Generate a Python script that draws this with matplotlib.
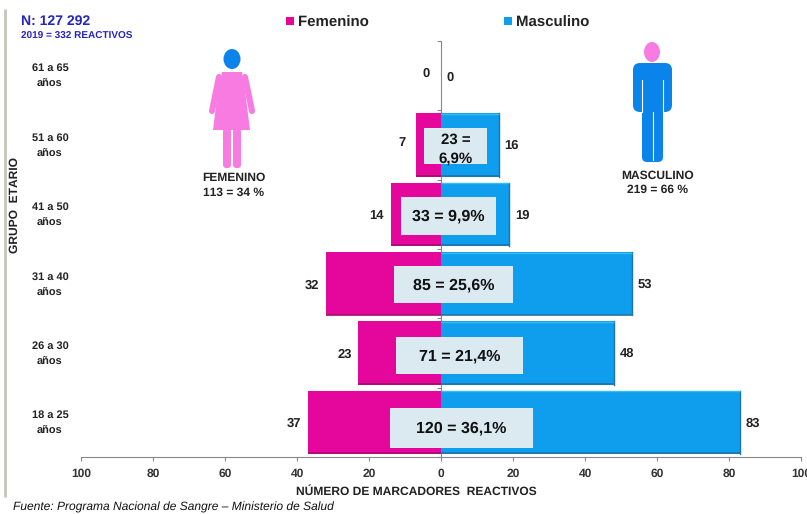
import matplotlib
matplotlib.use('Agg')
import matplotlib.pyplot as plt
from matplotlib.patches import Rectangle, Ellipse, Polygon, FancyBboxPatch

W, H = 807, 514

# data
groups = ['18 a 25\naños', '26 a 30\naños', '31 a 40\naños', '41 a 50\naños', '51 a 60\naños', '61 a 65\naños']
femenino = [37, 23, 32, 14, 7, 0]
masculino = [83, 48, 53, 19, 16, 0]
totales = ['120 = 36,1%', '71 = 21,4%', '85 = 25,6%', '33 = 9,9%', '23 =\n6,9%']
ticks = [-100, -80, -60, -40, -20, 0, 20, 40, 60, 80, 100]
tick_labels = ['100', '80', '60', '40', '20', '0', '20', '40', '60', '80', '100']

# light boxes in the middle, in axis units
box_left = [-14.2, -12.5, -13, -11.2, -4.7]
box_right = [25.6, 22.7, 19.9, 15.3, 12.8]
box_bottom = [-0.37, 0.697, 1.72, 2.70, 3.726]
box_top = [0.207, 1.23, 2.255, 3.25, 4.245]
box_text_shift = [-0.01, -0.01, -0.01, -0.01, -0.05]

# small vertical shifts of the pink side labels, they are not centred in the original
fem_shift = [-0.02, -0.02, -0.02, -0.02, 0.04, 0.03]

PINK = '#e5079b'
BLUE = '#0f9eee'
DARK = '#222222'
plt.rcParams['font.family'] = ['Liberation Sans', 'DejaVu Sans']
plt.rcParams['font.weight'] = 'bold'
plt.rcParams['text.hinting'] = 'no_hinting'
plt.rcParams['text.hinting_factor'] = 1
plt.rcParams['text.kerning_factor'] = 6

fig = plt.figure(figsize=(W / 100, H / 100), dpi=100)


def px(x0, y0, x1, y1):
    return [x0 / W, 1 - y1 / H, (x1 - x0) / W, (y1 - y0) / H]


ax = fig.add_axes(px(81, 41, 801, 457))
y = list(range(len(groups)))
left = [-v for v in femenino]
ax.barh(y, left, height=0.91, color=PINK, linewidth=0, zorder=3)
ax.barh(y, masculino, height=0.91, color=BLUE, linewidth=0, zorder=3)

# darker lower edge and lighter top of the bars
for i in y:
    if femenino[i] == 0 and masculino[i] == 0:
        continue
    ax.plot([left[i], 0], [i - 0.448, i - 0.448], color='#a60f70', lw=1.2, zorder=3.5, solid_capstyle='butt')
    ax.plot([0, masculino[i]], [i - 0.448, i - 0.448], color='#1c74ad', lw=1.2, zorder=3.5, solid_capstyle='butt')
    ax.plot([masculino[i], masculino[i]], [i - 0.455, i + 0.455], color='#1c74ad', lw=1, zorder=3.5)
    ax.plot([0, masculino[i]], [i + 0.445, i + 0.445], color='#35bdf0', lw=1, zorder=3.5, solid_capstyle='butt')

for i in range(len(totales)):
    ax.add_patch(Rectangle((box_left[i], box_bottom[i]), box_right[i] - box_left[i], box_top[i] - box_bottom[i],
                           color='#dbe9f1', lw=0, zorder=4))
    ax.text((box_left[i] + box_right[i]) / 2, (box_bottom[i] + box_top[i]) / 2 + box_text_shift[i], totales[i],
            ha='center', va='center', fontsize=11.5 if i < 4 else 11, color='#111111', zorder=5, linespacing=1.5)

# value labels next to the bars
for i in y:
    if femenino[i] == 0:
        ax.text(-4.2, i + fem_shift[i], '0', ha='center', va='center', fontsize=9, color=DARK)
    else:
        ax.text(-femenino[i] - 3.8, i + fem_shift[i], str(femenino[i]), ha='center', va='center', fontsize=9, color=DARK)
    if masculino[i] == 0:
        ax.text(2.6, i - 0.02, '0', ha='center', va='center', fontsize=9, color=DARK)
    else:
        ax.text(masculino[i] + 3.7, i - 0.01, str(masculino[i]), ha='center', va='center', fontsize=9, color=DARK)

ax.set_xlim(-100, 100)
ax.set_ylim(-0.5, 5.5)
ax.set_xticks(ticks)
ax.set_xticklabels(tick_labels, fontsize=8.5, color='#333333')
ax.set_yticks([v - 0.5 for v in y] + [5.5])
ax.set_yticklabels([])
ax.tick_params(axis='both', length=3, color='#888888', width=0.8, pad=5)
for s in ['top', 'right']:
    ax.spines[s].set_visible(False)
ax.spines['bottom'].set_color('#888888')
ax.spines['left'].set_color('#888888')
ax.spines['left'].set_position(('data', 0))
ax.spines['left'].set_zorder(2)

# overlay in pixel coordinates for the labels and figures
ov = fig.add_axes([0, 0, 1, 1], zorder=5)
ov.set_xlim(0, W)
ov.set_ylim(H, 0)
ov.axis('off')

cat_y = [422, 353, 284, 214, 145, 75]
for g, cy in zip(groups, cat_y):
    ov.text(50, cy + 1, g, ha='center', va='center', fontsize=8, color=DARK, linespacing=1.65)
ov.text(15, 205, 'GRUPO  ETARIO', rotation=90, ha='center', va='center', fontsize=8.5, color=DARK)

ov.text(21, 21, 'N: 127 292', ha='left', va='center', fontsize=10, color='#2525c0')
ov.text(21, 36, '2019 = 332 REACTIVOS', ha='left', va='center', fontsize=7.2, color='#2525c0')

ov.add_patch(Rectangle((286, 17), 8, 8, color=PINK, lw=0))
ov.text(298, 22.5, 'Femenino', ha='left', va='center', fontsize=11, color=DARK)
ov.add_patch(Rectangle((504, 17), 8, 8, color=BLUE, lw=0))
ov.text(516, 22.5, 'Masculino', ha='left', va='center', fontsize=11, color=DARK)

ov.text(234, 178, 'FEMENINO', ha='center', va='center', fontsize=8.3, color=DARK)
ov.text(234, 193, '113 = 34 %', ha='center', va='center', fontsize=8.3, color=DARK)
ov.text(658, 176, 'MASCULINO', ha='center', va='center', fontsize=8.3, color=DARK)
ov.text(658, 190, '219 = 66 %', ha='center', va='center', fontsize=8.3, color=DARK)

ov.text(416, 492, 'NÚMERO DE MARCADORES  REACTIVOS', ha='center', va='center', fontsize=8.5, color=DARK)
ov.text(13, 507, 'Fuente: Programa Nacional de Sangre – Ministerio de Salud', ha='left', va='center',
        fontsize=8.4, style='italic', weight='normal', color='#111111')

# grey line at the left edge
ov.plot([5, 5], [9, 497], color='#c4c4bc', lw=2, solid_capstyle='butt')

# woman figure
F = '#f77be0'
ov.add_patch(Ellipse((232, 59), 17, 20, color='#0a84ea', lw=0))
ov.add_patch(Polygon([[222, 72], [242, 72], [245, 90], [250, 130], [213, 130], [218, 90]],
                     closed=True, color=F, lw=0))
ov.plot([219, 212], [77, 111], color=F, lw=4.4, solid_capstyle='round')
ov.plot([245, 252], [77, 111], color=F, lw=4.4, solid_capstyle='round')
ov.add_patch(FancyBboxPatch((223, 128), 8, 40, boxstyle='round,pad=0,rounding_size=3.5', color=F, lw=0))
ov.add_patch(FancyBboxPatch((233, 128), 8, 40, boxstyle='round,pad=0,rounding_size=3.5', color=F, lw=0))

# man figure
M = '#0a84ea'
ov.add_patch(Ellipse((652, 52), 16, 20, color=F, lw=0))
ov.add_patch(FancyBboxPatch((633, 63), 39, 49, boxstyle='round,pad=0,rounding_size=7', color=M, lw=0))
ov.add_patch(FancyBboxPatch((642, 63), 21, 99, boxstyle='round,pad=0,rounding_size=5', color=M, lw=0))
ov.plot([652.5, 652.5], [112, 160], color='white', lw=0.8)
ov.plot([641.5, 641.5], [80, 112], color='white', lw=0.8)
ov.plot([663, 663], [80, 112], color='white', lw=0.8)

fig.savefig('out.png', dpi=100)
